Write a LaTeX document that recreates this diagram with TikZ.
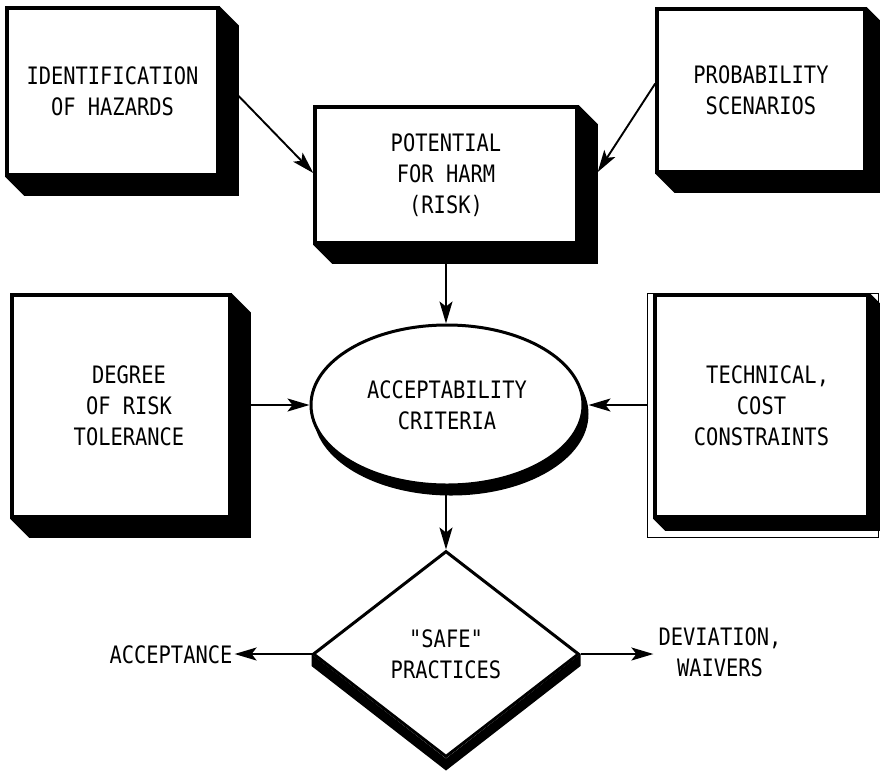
\documentclass[tikz,border=0pt]{standalone}
\usepackage{fontspec}
\newfontfamily\diagfont{DejaVu Sans Mono}[FakeStretch=0.85]
\usetikzlibrary{arrows.meta,shapes.geometric,backgrounds}
\newcommand\dropshade[2]{%
  \fill (#1.north east) -- ([shift={(#2pt,-#2pt)}]#1.north east)
     -- ([shift={(#2pt,-#2pt)}]#1.south east)
     -- ([shift={(#2pt,-#2pt)}]#1.south west)
     -- (#1.south west) -- (#1.south east) -- cycle;}
\begin{document}
\begin{tikzpicture}[x=1pt,y=-1pt,
  every node/.style={font=\diagfont\fontsize{24}{31}\selectfont, align=center},
  box/.style={draw, line width=3.5pt, fill=white, rectangle, inner sep=0pt},
  oval/.style={draw, ellipse, line width=3pt, fill=white, inner sep=0pt},
  decision/.style={draw, diamond, line width=3pt, fill=white, inner sep=0pt},
  frame/.style={draw, line width=1.5pt, rectangle, inner sep=0pt},
  label/.style={inner sep=2pt},
  conn/.style={line width=1.9pt, -{Stealth[length=22pt,width=13pt,inset=5pt]}},
]
\useasboundingbox (0,0) rectangle (880,772);

% top row
\node[box, minimum width=211pt, minimum height=167pt] (hz) at (112.5,91.5)
  {IDENTIFICATION\\OF HAZARDS};
\dropshade{hz}{19}
\node[box, minimum width=262pt, minimum height=136pt] (ph) at (446,175)
  {POTENTIAL\\FOR HARM\\(RISK)};
\dropshade{ph}{19}
\node[box, minimum width=208pt, minimum height=163pt] (pr) at (761,90.5)
  {PROBABILITY\\SCENARIOS};
\dropshade{pr}{19}

% middle row
\node[box, minimum width=218pt, minimum height=222pt] (dg) at (121,406)
  {\hspace*{16pt}DEGREE\\\hspace*{16pt}OF RISK\\\hspace*{16pt}TOLERANCE};
\dropshade{dg}{19}
\node[frame, minimum width=231pt, minimum height=244pt] (tf) at (763,415.5) {};
\node[box, minimum width=213pt, minimum height=222pt] (tc) at (761.5,406)
  {\ TECHNICAL,\\COST\\CONSTRAINTS};
\dropshade{tc}{12}

\node[oval, minimum width=272pt, minimum height=160pt] (ac) at (447,405)
  {ACCEPTABILITY\\CRITERIA};
\begin{scope}[on background layer]
  \fill ([shift={(4pt,-9pt)}]ac.center) ellipse [x radius=137.5pt, y radius=81.5pt];
\end{scope}

% decision
\node[decision, minimum width=266pt, minimum height=206pt] (sp) at (446,654)
  {"SAFE"\\PRACTICES};
\fill (sp.west) -- (sp.south) -- (sp.east) -- ([yshift=-12pt]sp.east)
  -- ([yshift=-12pt]sp.south) -- ([yshift=-12pt]sp.west) -- cycle;

\node[label] (acc) at (171,655) {ACCEPTANCE};
\node[label, inner sep=5pt] (dev) at (720,652) {DEVIATION,\\WAIVERS};

% connectors
\draw[conn] ([yshift=15pt]hz.east) -- ([yshift=2pt]ph.west);
\draw[conn] ([yshift=7pt]pr.west) -- ([shift={(19pt,3pt)}]ph.east);
\draw[conn] (ph.south) -- (ph.south |- ac.north);
\draw[conn] (dg.east |- ac.west) -- (ac.west);
\draw[conn] (tf.west |- ac.east) -- ([xshift=4pt]ac.east);
\draw[conn] (ac.south -| sp.north) -- (sp.north);
\draw[conn] (sp.west) -- (sp.west -| acc.east);
\draw[conn] (sp.east) -- (sp.east -| dev.west);
\end{tikzpicture}
\end{document}
